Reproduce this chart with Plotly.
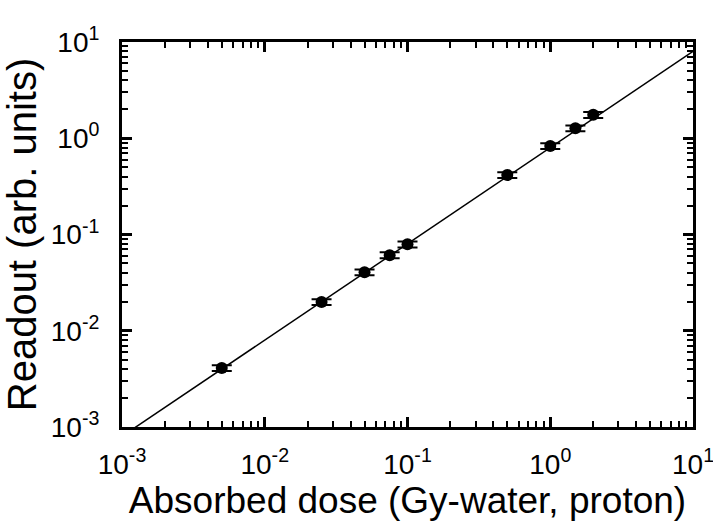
import plotly.graph_objects as go

# Measured readout versus absorbed dose
dose = [0.005, 0.025, 0.05, 0.075, 0.1, 0.5, 1.0, 1.5, 2.0]
readout = [0.0041, 0.0199, 0.0405, 0.061, 0.079, 0.415, 0.83, 1.27, 1.75]
readout_err_pct = 7

# Linear fit line endpoints
fit_x = [0.001, 10.0]
fit_y = [0.0008, 8.0]

decades = [-3, -2, -1, 0, 1]
tick_vals = [10.0 ** d for d in decades]
tick_text = ["10<sup>%d</sup>" % d for d in decades]
minor_vals = [m * 10.0 ** d for d in decades[:-1] for m in range(2, 10)]

font_family = "Liberation Sans, Arial, sans-serif"

fig = go.Figure()
fig.add_trace(go.Scatter(
    x=fit_x, y=fit_y, mode="lines",
    line=dict(color="black", width=1.5),
    showlegend=False, hoverinfo="skip",
))
fig.add_trace(go.Scatter(
    x=dose, y=readout, mode="markers",
    marker=dict(color="black", size=12),
    error_y=dict(type="percent", value=readout_err_pct, color="black",
                 thickness=2, width=10),
    showlegend=False,
))

axis_common = dict(
    type="log",
    tickvals=tick_vals,
    ticktext=tick_text,
    ticks="inside",
    ticklen=10,
    tickwidth=2.5,
    tickcolor="black",
    showline=True,
    linecolor="black",
    linewidth=3,
    mirror="allticks",
    showgrid=False,
    zeroline=False,
    automargin=False,
    ticklabeloverflow="allow",
    tickfont=dict(family=font_family, size=28, color="black"),
    minor=dict(tickvals=minor_vals, ticks="inside", ticklen=6,
               tickwidth=2, tickcolor="black", showgrid=False),
)

fig.update_xaxes(
    range=[-3, 1],
    ticklabelstandoff=10,
    title=dict(text="Absorbed dose (Gy-water, proton)",
               font=dict(family=font_family, size=37, color="black"),
               standoff=6),
    **axis_common,
)
fig.update_yaxes(
    range=[-3, 1],
    ticklabelstandoff=14,
    title=dict(text="Readout (arb. units)",
               font=dict(family=font_family, size=40, color="black"),
               standoff=8),
    **axis_common,
)

fig.update_layout(
    width=713, height=526,
    margin=dict(l=122, r=20, t=42, b=99),
    plot_bgcolor="white",
    paper_bgcolor="white",
    font=dict(family=font_family, color="black"),
)

fig.write_html("out.html")
